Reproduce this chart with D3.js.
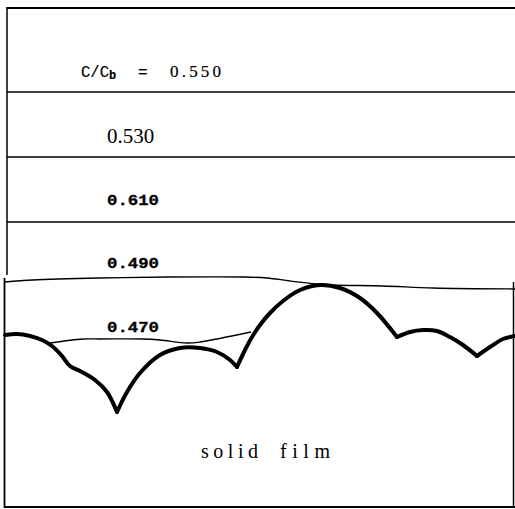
<!DOCTYPE html>
<html>
<head>
<meta charset="utf-8">
<script src="https://cdn.jsdelivr.net/npm/d3@7"></script>
<style>
  html, body { margin: 0; padding: 0; background: #fff; overflow: hidden; }
  svg { display: block; }
</style>
</head>
<body>
<div id="chart"></div>
<script>
(function () {
  "use strict";

  // film profile: grain arcs, each [x, height], cusps are shared endpoints
  var grain1 = [[0, 172], [12, 173], [25, 171], [37, 167], [47, 161], [57, 151], [65, 141], [75, 136], [90, 127], [102, 115], [112, 95]];
  var grain2 = [[112, 95], [122, 115], [135, 134], [155, 152], [175, 159], [195, 159], [212, 155], [225, 147], [232, 140]];
  var grain3 = [[232, 140], [240, 157], [247, 170], [255, 182], [265, 194], [278, 206], [295, 217], [315, 222], [335, 219], [355, 209], [372, 194], [392, 170]];
  var grain4 = [[392, 170], [405, 175], [418, 177], [432, 176], [445, 170], [458, 162], [472, 151]];
  var grain5 = [[472, 151], [485, 160], [498, 168], [510, 171]];
  var grains = [grain1, grain2, grain3, grain4, grain5];

  // iso-concentration contours near the film
  var c490 = [[0, 225], [28, 227], [95, 229], [162, 230], [240, 230], [262, 229], [285, 226], [312, 223], [328, 222], [378, 221], [428, 219], [510, 218]];
  var c470 = [[45, 164], [78, 168], [95, 168], [138, 168], [155, 167], [182, 164], [195, 165], [246, 175]];

  // flat contours further out (height of each)
  var flatLevels = ["0.550", "0.530", "0.610"];
  var flatHeights = [415, 350, 285];

  // contour labels and where they sit (data units)
  var labelText = ["0.550", "0.530", "0.610", "0.490", "0.470"];
  var labelX = [165, 102, 102, 102, 102];
  var labelH = [430, 364, 302, 239, 175];

  var W = 515, H = 509;
  var x = d3.scaleLinear().domain([0, 510]).range([5, 515]);
  var y = d3.scaleLinear().domain([0, 500]).range([507, 7]);

  var svg = d3.select("#chart").append("svg")
    .attr("width", W).attr("height", H)
    .attr("viewBox", "0 0 " + W + " " + H);

  var ink = "#000";

  // --- frames (two pasted panels) ---
  var fr = svg.append("g").attr("fill", "none").attr("stroke", ink);
  fr.append("line").attr("x1", 7).attr("x2", W).attr("y1", 8).attr("y2", 8).attr("stroke-width", 2.2);
  fr.append("line").attr("x1", 7).attr("x2", 7).attr("y1", 7).attr("y2", 275).attr("stroke-width", 1.5);
  fr.append("line").attr("x1", 4.5).attr("x2", 4.5).attr("y1", 278).attr("y2", 508).attr("stroke-width", 1.8);
  fr.append("line").attr("x1", 4).attr("x2", W).attr("y1", 507).attr("y2", 507).attr("stroke-width", 2.2);
  fr.append("line").attr("x1", 513.5).attr("x2", 513.5).attr("y1", 282).attr("y2", 508).attr("stroke-width", 1.5);

  // flat contours
  svg.append("g").selectAll("line").data(flatHeights).join("line")
    .attr("x1", 7).attr("x2", W)
    .attr("y1", function (d) { return y(d); })
    .attr("y2", function (d) { return y(d); })
    .attr("stroke", ink).attr("stroke-width", 1.4);

  var line = d3.line()
    .x(function (d) { return x(d[0]); })
    .y(function (d) { return y(d[1]); })
    .curve(d3.curveCatmullRom.alpha(0.5));

  // thin contours
  svg.append("g").selectAll("path").data([c490, c470]).join("path")
    .attr("d", line)
    .attr("fill", "none").attr("stroke", ink).attr("stroke-width", 1.3);

  // film surface
  svg.append("g").selectAll("path").data(grains).join("path")
    .attr("d", line)
    .attr("fill", "none").attr("stroke", ink)
    .attr("stroke-width", 4).attr("stroke-linejoin", "round").attr("stroke-linecap", "round");

  // --- labels ---
  var serif = "'Liberation Serif', 'DejaVu Serif', serif";
  var mono = "'Liberation Mono', 'DejaVu Sans Mono', monospace";

  // first label carries the C/Cb prefix
  var t0 = svg.append("text")
    .attr("x", 81).attr("y", y(labelH[0]))
    .attr("font-family", mono).attr("font-size", 16).attr("fill", ink)
    .attr("stroke", ink).attr("stroke-width", 0.2);
  t0.append("tspan").attr("textLength", 28).attr("lengthAdjust", "spacingAndGlyphs").text("C/C");
  t0.append("tspan").attr("font-size", 12).attr("dy", 2).attr("font-weight", "bold").text("b");
  t0.append("tspan").attr("x", 138).attr("dy", -2).text("=");
  t0.append("tspan").attr("x", x(labelX[0]))
    .attr("font-family", serif).attr("font-size", 17)
    .attr("textLength", 51).attr("lengthAdjust", "spacing")
    .text(labelText[0]);

  svg.append("text")
    .attr("x", x(labelX[1])).attr("y", y(labelH[1]))
    .attr("font-family", serif).attr("font-size", 21).attr("fill", ink)
    .text(labelText[1]);

  svg.append("g").selectAll("text").data(d3.range(2, 5)).join("text")
    .attr("x", function (i) { return x(labelX[i]); })
    .attr("y", function (i) { return y(labelH[i]); })
    .attr("font-family", mono).attr("font-weight", "bold").attr("font-size", 14)
    .attr("textLength", 52).attr("lengthAdjust", "spacingAndGlyphs")
    .attr("fill", ink).attr("stroke", ink).attr("stroke-width", 0.3)
    .text(function (i) { return labelText[i]; });

  var sf = svg.append("text")
    .attr("y", 458)
    .attr("font-family", serif).attr("font-size", 20).attr("fill", ink);
  sf.append("tspan").attr("x", 201).attr("textLength", 57).attr("lengthAdjust", "spacing").text("solid");
  sf.append("tspan").attr("x", 280).attr("textLength", 50).attr("lengthAdjust", "spacing").text("film");
})();
</script>
</body>
</html>
